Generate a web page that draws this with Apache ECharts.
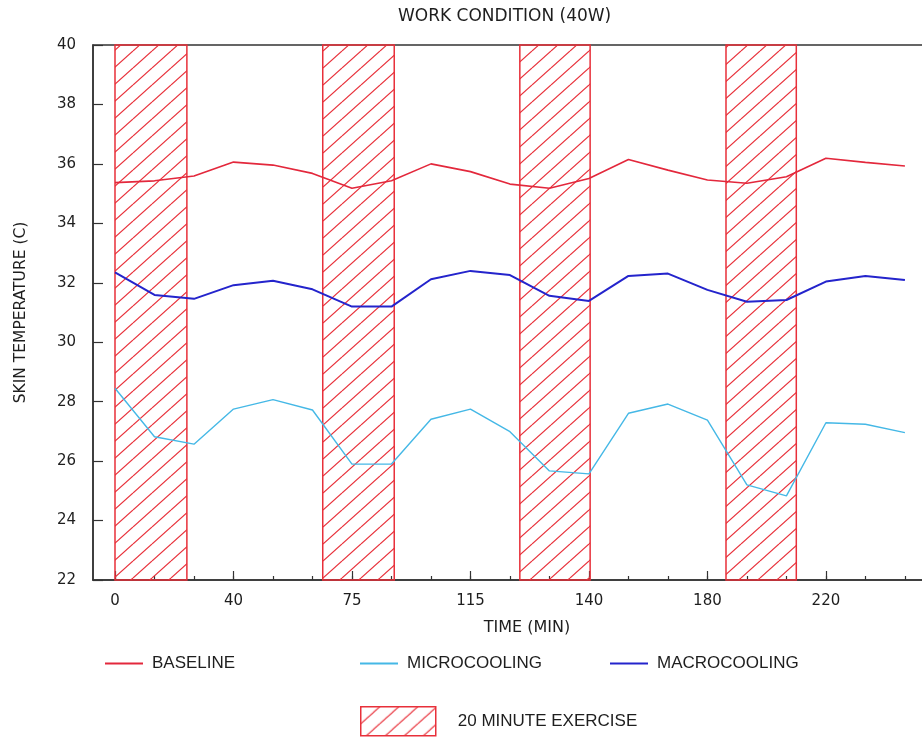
<!DOCTYPE html>
<html>
<head>
<meta charset="utf-8">
<script src="https://cdn.jsdelivr.net/npm/echarts@6/dist/echarts.min.js"></script>
<style>
  html, body { margin: 0; padding: 0; background: #fff; }
  #chart { width: 922px; height: 739px; }
</style>
</head>
<body>
<div id="chart"></div>
<script>
// Samples are evenly spaced along the time axis; every third sample carries a time label (min).
const timeLabels = ['0', '40', '75', '115', '140', '180', '220'];
const labelEvery = 3;

// Skin temperature (C) per sample
const baseline     = [35.37, 35.43, 35.59, 36.06, 35.96, 35.68, 35.18, 35.43, 36.00, 35.74, 35.32,
                      35.18, 35.51, 36.15, 35.79, 35.46, 35.35, 35.57, 36.19, 36.05, 35.93];
const microcooling = [28.45, 26.82, 26.57, 27.75, 28.07, 27.72, 25.90, 25.90, 27.41, 27.75, 26.99,
                      25.67, 25.57, 27.61, 27.92, 27.38, 25.20, 24.83, 27.29, 27.24, 26.96];
const macrocooling = [32.35, 31.59, 31.46, 31.92, 32.07, 31.78, 31.20, 31.20, 32.12, 32.40, 32.26,
                      31.56, 31.39, 32.23, 32.31, 31.76, 31.36, 31.42, 32.04, 32.23, 32.09];

// 20 minute exercise periods, in sample units
const exerciseStart = [0, 5.26, 10.25, 15.47];
const exerciseEnd   = [1.82, 7.07, 12.03, 17.25];

const Y_MIN = 22, Y_MAX = 40;
const RED = '#e8303a';
const FONT = 'DejaVu Sans';
const TEXT = '#1e1e1e';

// diagonal hatch tile for the exercise bands
function makeHatch() {
  const w = 19, h = 17;
  const c = document.createElement('canvas');
  c.width = w; c.height = h;
  const g = c.getContext('2d');
  g.strokeStyle = RED;
  g.lineWidth = 1.2;
  for (let k = -1; k <= 1; k++) {
    g.beginPath();
    g.moveTo(0, h * (k + 1));
    g.lineTo(w, h * k);
    g.stroke();
  }
  return c;
}
const hatch = { image: makeHatch(), repeat: 'repeat' };

const toPairs = arr => arr.map((v, i) => [i, v]);
const sampleCount = baseline.length;
const allSamples = Array.from({ length: sampleCount + 1 }, (_, i) => i);
const labelled = timeLabels.map((_, i) => i * labelEvery);

const X_MIN = -0.557, X_MAX = 21.42;

const chart = echarts.init(document.getElementById('chart'));
chart.setOption({
  animation: false,
  backgroundColor: '#fff',
  title: {
    text: 'WORK CONDITION (40W)',
    left: 398, top: 8,
    padding: 0,
    textStyle: { fontFamily: FONT, fontSize: 17, fontWeight: 'normal', color: TEXT }
  },
  grid: {
    left: 93, top: 45, width: 868, height: 535,
    outerBoundsMode: 'none',
    show: true, borderColor: '#333', borderWidth: 1.5, backgroundColor: 'transparent'
  },
  xAxis: [{
    type: 'value', min: X_MIN, max: X_MAX,
    name: 'TIME (MIN)', nameLocation: 'middle', nameGap: 40,
    nameTextStyle: { fontFamily: FONT, fontSize: 16, color: TEXT },
    axisLine: { show: true, onZero: false, lineStyle: { color: '#333', width: 1.5 } },
    axisTick: { show: true, inside: true, length: 9, customValues: labelled, lineStyle: { color: '#333', width: 1.2 } },
    axisLabel: {
      customValues: labelled, margin: 14,
      fontFamily: FONT, fontSize: 15, color: TEXT,
      formatter: v => timeLabels[Math.round(v / labelEvery)]
    },
    splitLine: { show: false }
  }, {
    type: 'value', min: X_MIN, max: X_MAX, position: 'bottom',
    axisLine: { show: false, onZero: false },
    axisTick: { show: true, inside: true, length: 4, customValues: allSamples, lineStyle: { color: '#333', width: 1.2 } },
    axisLabel: { show: false },
    splitLine: { show: false }
  }],
  yAxis: {
    type: 'value', min: Y_MIN, max: Y_MAX, interval: 2,
    name: 'SKIN TEMPERATURE (C)', nameLocation: 'middle', nameGap: 64,
    nameTextStyle: { fontFamily: FONT, fontSize: 15.5, color: TEXT },
    axisLine: { show: true, onZero: false, lineStyle: { color: '#333', width: 1.5 } },
    axisTick: { show: true, inside: true, length: 10, lineStyle: { color: '#333', width: 1.2 } },
    axisLabel: { margin: 17, fontFamily: FONT, fontSize: 15, color: TEXT },
    splitLine: { show: false }
  },
  legend: [
    { data: ['BASELINE'], left: 105, top: 655 },
    { data: ['MICROCOOLING'], left: 360, top: 655 },
    { data: ['MACROCOOLING'], left: 610, top: 655 }
  ].map(l => Object.assign({
    padding: 0, icon: 'rect', itemWidth: 38, itemHeight: 2, selectedMode: false,
    textStyle: { fontFamily: 'Liberation Sans', fontSize: 17, color: TEXT, padding: [0, 0, 0, 4] }
  }, l)).concat([{
    data: [{ name: '20 MINUTE EXERCISE', icon: 'rect',
             itemStyle: { color: hatch, borderColor: RED, borderWidth: 1.5 } }],
    left: 360, top: 706, padding: 0,
    itemWidth: 75, itemHeight: 29, selectedMode: false,
    textStyle: { fontFamily: 'Liberation Sans', fontSize: 17, color: TEXT, padding: [0, 0, 0, 17] }
  }]),
  series: [
    {
      name: '20 MINUTE EXERCISE',
      type: 'custom',
      z: 1,
      data: exerciseStart.map((s, i) => [s, exerciseEnd[i], Y_MIN, Y_MAX]),
      encode: { x: [0, 1], y: [2, 3] },
      itemStyle: { color: hatch, borderColor: RED, borderWidth: 1.5 },
      renderItem: (params, api) => {
        const p0 = api.coord([api.value(0), api.value(3)]);
        const p1 = api.coord([api.value(1), api.value(2)]);
        return {
          type: 'rect',
          shape: { x: p0[0], y: p0[1], width: p1[0] - p0[0], height: p1[1] - p0[1] },
          style: { fill: hatch, stroke: RED, lineWidth: 1.5 }
        };
      }
    },
    {
      name: 'BASELINE', type: 'line', z: 3, showSymbol: false, symbol: 'none',
      data: toPairs(baseline),
      itemStyle: { color: '#e3283c' },
      lineStyle: { color: '#e3283c', width: 1.6 }
    },
    {
      name: 'MICROCOOLING', type: 'line', z: 3, showSymbol: false, symbol: 'none',
      data: toPairs(microcooling),
      itemStyle: { color: '#45b8e6' },
      lineStyle: { color: '#45b8e6', width: 1.4 }
    },
    {
      name: 'MACROCOOLING', type: 'line', z: 3, showSymbol: false, symbol: 'none',
      data: toPairs(macrocooling),
      itemStyle: { color: '#2424cc' },
      lineStyle: { color: '#2424cc', width: 2 }
    }
  ]
});
</script>
</body>
</html>
